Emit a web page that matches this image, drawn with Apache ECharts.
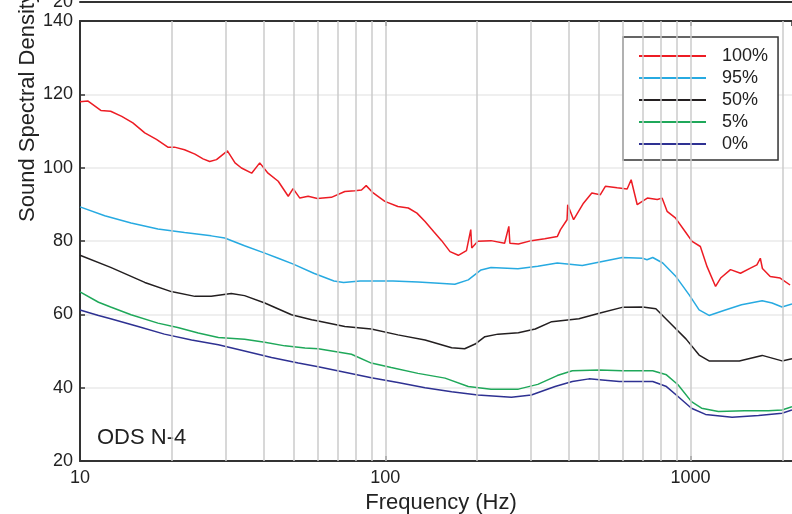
<!DOCTYPE html>
<html>
<head>
<meta charset="utf-8">
<title>ODS N-4</title>
<script src="https://cdn.jsdelivr.net/npm/echarts@6/dist/echarts.min.js"></script>
<style>
  body { margin: 0; background: #fff; }
  #main { width: 792px; height: 514px; }
</style>
</head>
<body>
<div id="main"></div>
<script>
// [frequency Hz, level] pairs
var level100 = [[10,118],[10.6,118.2],[11.7,115.6],[12.6,115.4],[13.7,114],[14.9,112.2],[16.3,109.5],[17.8,107.7],[19.4,105.6],[20.4,105.6],[22,104.9],[23.8,103.7],[25.3,102.4],[26.6,101.7],[28,102.2],[30.4,104.6],[32.2,101.3],[33.8,99.9],[36.5,98.5],[38.8,101.3],[41.3,98.5],[44.6,96.3],[48.1,92.2],[49.9,94.3],[52.5,91.7],[55.9,92.2],[59.9,91.6],[66.6,91.9],[73.7,93.5],[79.5,93.7],[83.6,93.9],[86.6,95.1],[91.3,93.1],[99.7,90.8],[110,89.4],[119,89],[127,87.6],[135,85.3],[144,82.6],[153,80.1],[163,77.1],[173.5,76.1],[184.5,77.4],[190.6,83.1],[192,78.1],[201,79.9],[222,80.1],[246,79.4],[254,84],[256,79.4],[273,79.2],[301,80.1],[333,80.6],[366,81.2],[375,83.1],[394,85.8],[396,89.9],[414,85.8],[446,90.3],[475,93.1],[506,92.6],[526,94.9],[575,94.5],[620,94.2],[639,96.7],[669,89.9],[722,91.7],[778,91.3],[807,91.7],[838,88.1],[892,86.3],[960,82.6],[1012,79.9],[1077,78.5],[1133,73],[1208,67.6],[1255,69.9],[1352,72.2],[1458,71.2],[1571,72.6],[1650,73.5],[1693,75.3],[1720,72.5],[1824,70.3],[1966,69.9],[2119,68]];
var level95 = [[10,89.3],[12.05,86.9],[14.7,84.9],[18,83.3],[22,82.3],[26.9,81.4],[29.8,80.8],[34.6,78.7],[40.3,76.7],[44.6,75.3],[50,73.7],[58.3,71.2],[67.9,69.1],[73,68.7],[82.7,69.1],[99.6,69.1],[106,69.1],[128,68.8],[150,68.5],[169,68.2],[187,69.4],[206,72.1],[222,72.8],[272,72.4],[316,73.1],[366,74],[442,73.3],[514,74.4],[597,75.5],[697,75.3],[720,74.9],[752,75.5],[811,74],[896,70.3],[990,65.3],[1067,61.2],[1150,59.7],[1300,61.2],[1469,62.6],[1717,63.7],[1850,63.1],[1994,62],[2150,62.8]];
var level50 = [[10,76.1],[12.6,72.8],[16.3,68.7],[19.9,66.2],[23.8,64.9],[26.9,64.9],[31.3,65.7],[34.6,65.1],[40.3,63.1],[49.3,59.9],[57.4,58.5],[60.3,58.2],[73.7,56.7],[90,56],[110,54.4],[135,53],[165,50.9],[182,50.6],[197,51.9],[212,53.9],[234,54.6],[273,55],[310,56],[351,58],[431,58.8],[502,60.3],[597,61.9],[697,62],[770,61.5],[870,57.1],[966,53.3],[1067,48.9],[1150,47.3],[1445,47.3],[1717,48.8],[1994,47.3],[2150,47.9]];
var level5 = [[10,66.1],[11.5,63.3],[12.6,62],[14.7,59.9],[18,57.6],[20.9,56.4],[24.4,54.9],[28.4,53.7],[34.6,53.2],[40.3,52.4],[46.9,51.4],[54.6,50.8],[60.3,50.6],[77.5,49.1],[90,46.7],[104.6,45.5],[128,43.9],[157,42.6],[187,40.3],[222,39.6],[273,39.6],[316,40.9],[366,43.3],[410,44.6],[502,44.8],[597,44.6],[752,44.6],[834,43.5],[910,40.8],[1007,36.2],[1087,34.4],[1234,33.5],[1504,33.7],[1800,33.7],[1994,33.9],[2150,34.8]];
var level0 = [[10,61.2],[11.5,59.7],[12.6,58.8],[15.5,56.7],[18.9,54.6],[23.2,53],[28.4,51.7],[34.6,50],[42.4,48.2],[51.9,46.7],[60.3,45.7],[73.7,44.2],[90,42.7],[110,41.4],[135,40],[165,38.9],[201,38],[259,37.4],[301,38],[360,40.3],[410,41.7],[465,42.4],[514,42.1],[584,41.7],[680,41.7],[752,41.7],[834,40.3],[910,37.6],[1007,34.4],[1120,32.7],[1368,31.9],[1670,32.4],[1994,33],[2150,33.9]];

var seriesNames = ['100%', '95%', '50%', '5%', '0%'];
var seriesColors = ['#ed1c24', '#27aae1', '#231f20', '#1fa85a', '#2e3192'];
var seriesData = [level100, level95, level50, level5, level0];

// minor log gridlines
var gridFreqs = [20, 30, 40, 50, 60, 70, 80, 90, 100, 200, 300, 400, 500, 600, 700, 800, 900, 1000, 2000];

var font = "'Liberation Sans', Arial, sans-serif";
var chart = echarts.init(document.getElementById('main'));

var series = seriesData.map(function (d, i) {
  return {
    name: seriesNames[i],
    type: 'line',
    data: d,
    symbol: 'none',
    z: 3,
    color: seriesColors[i],
    lineStyle: { width: 1.5, color: seriesColors[i] }
  };
});
// vertical grid lines
series.push({
  type: 'line',
  data: [],
  z: 1,
  silent: true,
  markLine: {
    silent: true,
    symbol: 'none',
    animation: false,
    label: { show: false },
    lineStyle: { color: '#cbcbcb', width: 1.5, type: 'solid' },
    data: gridFreqs.map(function (f) { return { xAxis: f }; })
  }
});

var option = {
  animation: false,
  textStyle: { fontFamily: font },
  grid: [
    { left: 80, top: 21, width: 712, height: 440, outerBoundsMode: 'none' },
    { left: 80, top: 0, width: 712, height: 2, outerBoundsMode: 'none' }
  ],
  xAxis: [
    {
      type: 'log', logBase: 10, min: 10, max: 2150, gridIndex: 0,
      name: 'Frequency (Hz)', nameLocation: 'middle', nameGap: 30,
      nameTextStyle: { fontSize: 22, color: '#222', fontFamily: font, padding: [0, 0, 0, 10] },
      axisLine: { lineStyle: { color: '#333', width: 2 } },
      axisTick: { inside: true, length: 5, lineStyle: { color: '#333', width: 1.5 } },
      axisLabel: {
        fontSize: 18, color: '#222', margin: 8, showMaxLabel: false, fontFamily: font,
        formatter: function (v) { return String(v); }
      },
      splitLine: { show: false }
    },
    {
      type: 'log', logBase: 10, min: 10, max: 2150, gridIndex: 0, position: 'top',
      axisLine: { lineStyle: { color: '#333', width: 2 } },
      axisTick: { inside: true, length: 5, lineStyle: { color: '#333', width: 1.5 } },
      axisLabel: { show: false },
      splitLine: { show: false }
    },
    {
      type: 'log', logBase: 10, min: 10, max: 2150, gridIndex: 1,
      axisLine: { lineStyle: { color: '#333', width: 2 } },
      axisTick: { show: false },
      axisLabel: { show: false },
      splitLine: { show: false }
    }
  ],
  yAxis: [
    {
      type: 'value', min: 20, max: 140, interval: 20, gridIndex: 0,
      axisLine: { show: true, lineStyle: { color: '#333', width: 2 } },
      axisTick: { show: true, inside: true, length: 5, lineStyle: { color: '#333', width: 1.5 } },
      axisLabel: { fontSize: 18, color: '#222', margin: 7, fontFamily: font },
      splitLine: { show: true, lineStyle: { color: '#efefef', width: 2 } }
    },
    {
      type: 'value', min: 20, max: 140, interval: 120, gridIndex: 1,
      axisLine: { show: false },
      axisTick: { show: false },
      axisLabel: {
        fontSize: 18, color: '#222', margin: 7, fontFamily: font,
        formatter: function (v) { return v === 20 ? '20' : ''; }
      },
      splitLine: { show: false }
    }
  ],
  legend: {
    data: seriesNames,
    orient: 'vertical',
    left: 623,
    top: 37,
    padding: [10, 10, 7, 16],
    icon: 'rect',
    itemWidth: 67,
    itemHeight: 2,
    itemGap: 4,
    backgroundColor: '#fff',
    borderColor: '#333',
    borderWidth: 1.5,
    borderRadius: 0,
    textStyle: { fontSize: 18, color: '#222', fontFamily: font, padding: [0, 0, 0, 11] }
  },
  graphic: [
    {
      type: 'text',
      x: 28, y: 222,
      rotation: Math.PI / 2,
      style: {
        text: 'Sound Spectral Density (dB)',
        fontSize: 22, fontFamily: font, fill: '#222',
        textAlign: 'left', textVerticalAlign: 'middle'
      }
    },
    {
      type: 'text',
      x: 97, y: 438,
      style: {
        text: 'ODS N-4',
        fontSize: 22, fontFamily: font, fill: '#222',
        textAlign: 'left', textVerticalAlign: 'middle'
      }
    }
  ],
  series: series
};

chart.setOption(option);
</script>
</body>
</html>
